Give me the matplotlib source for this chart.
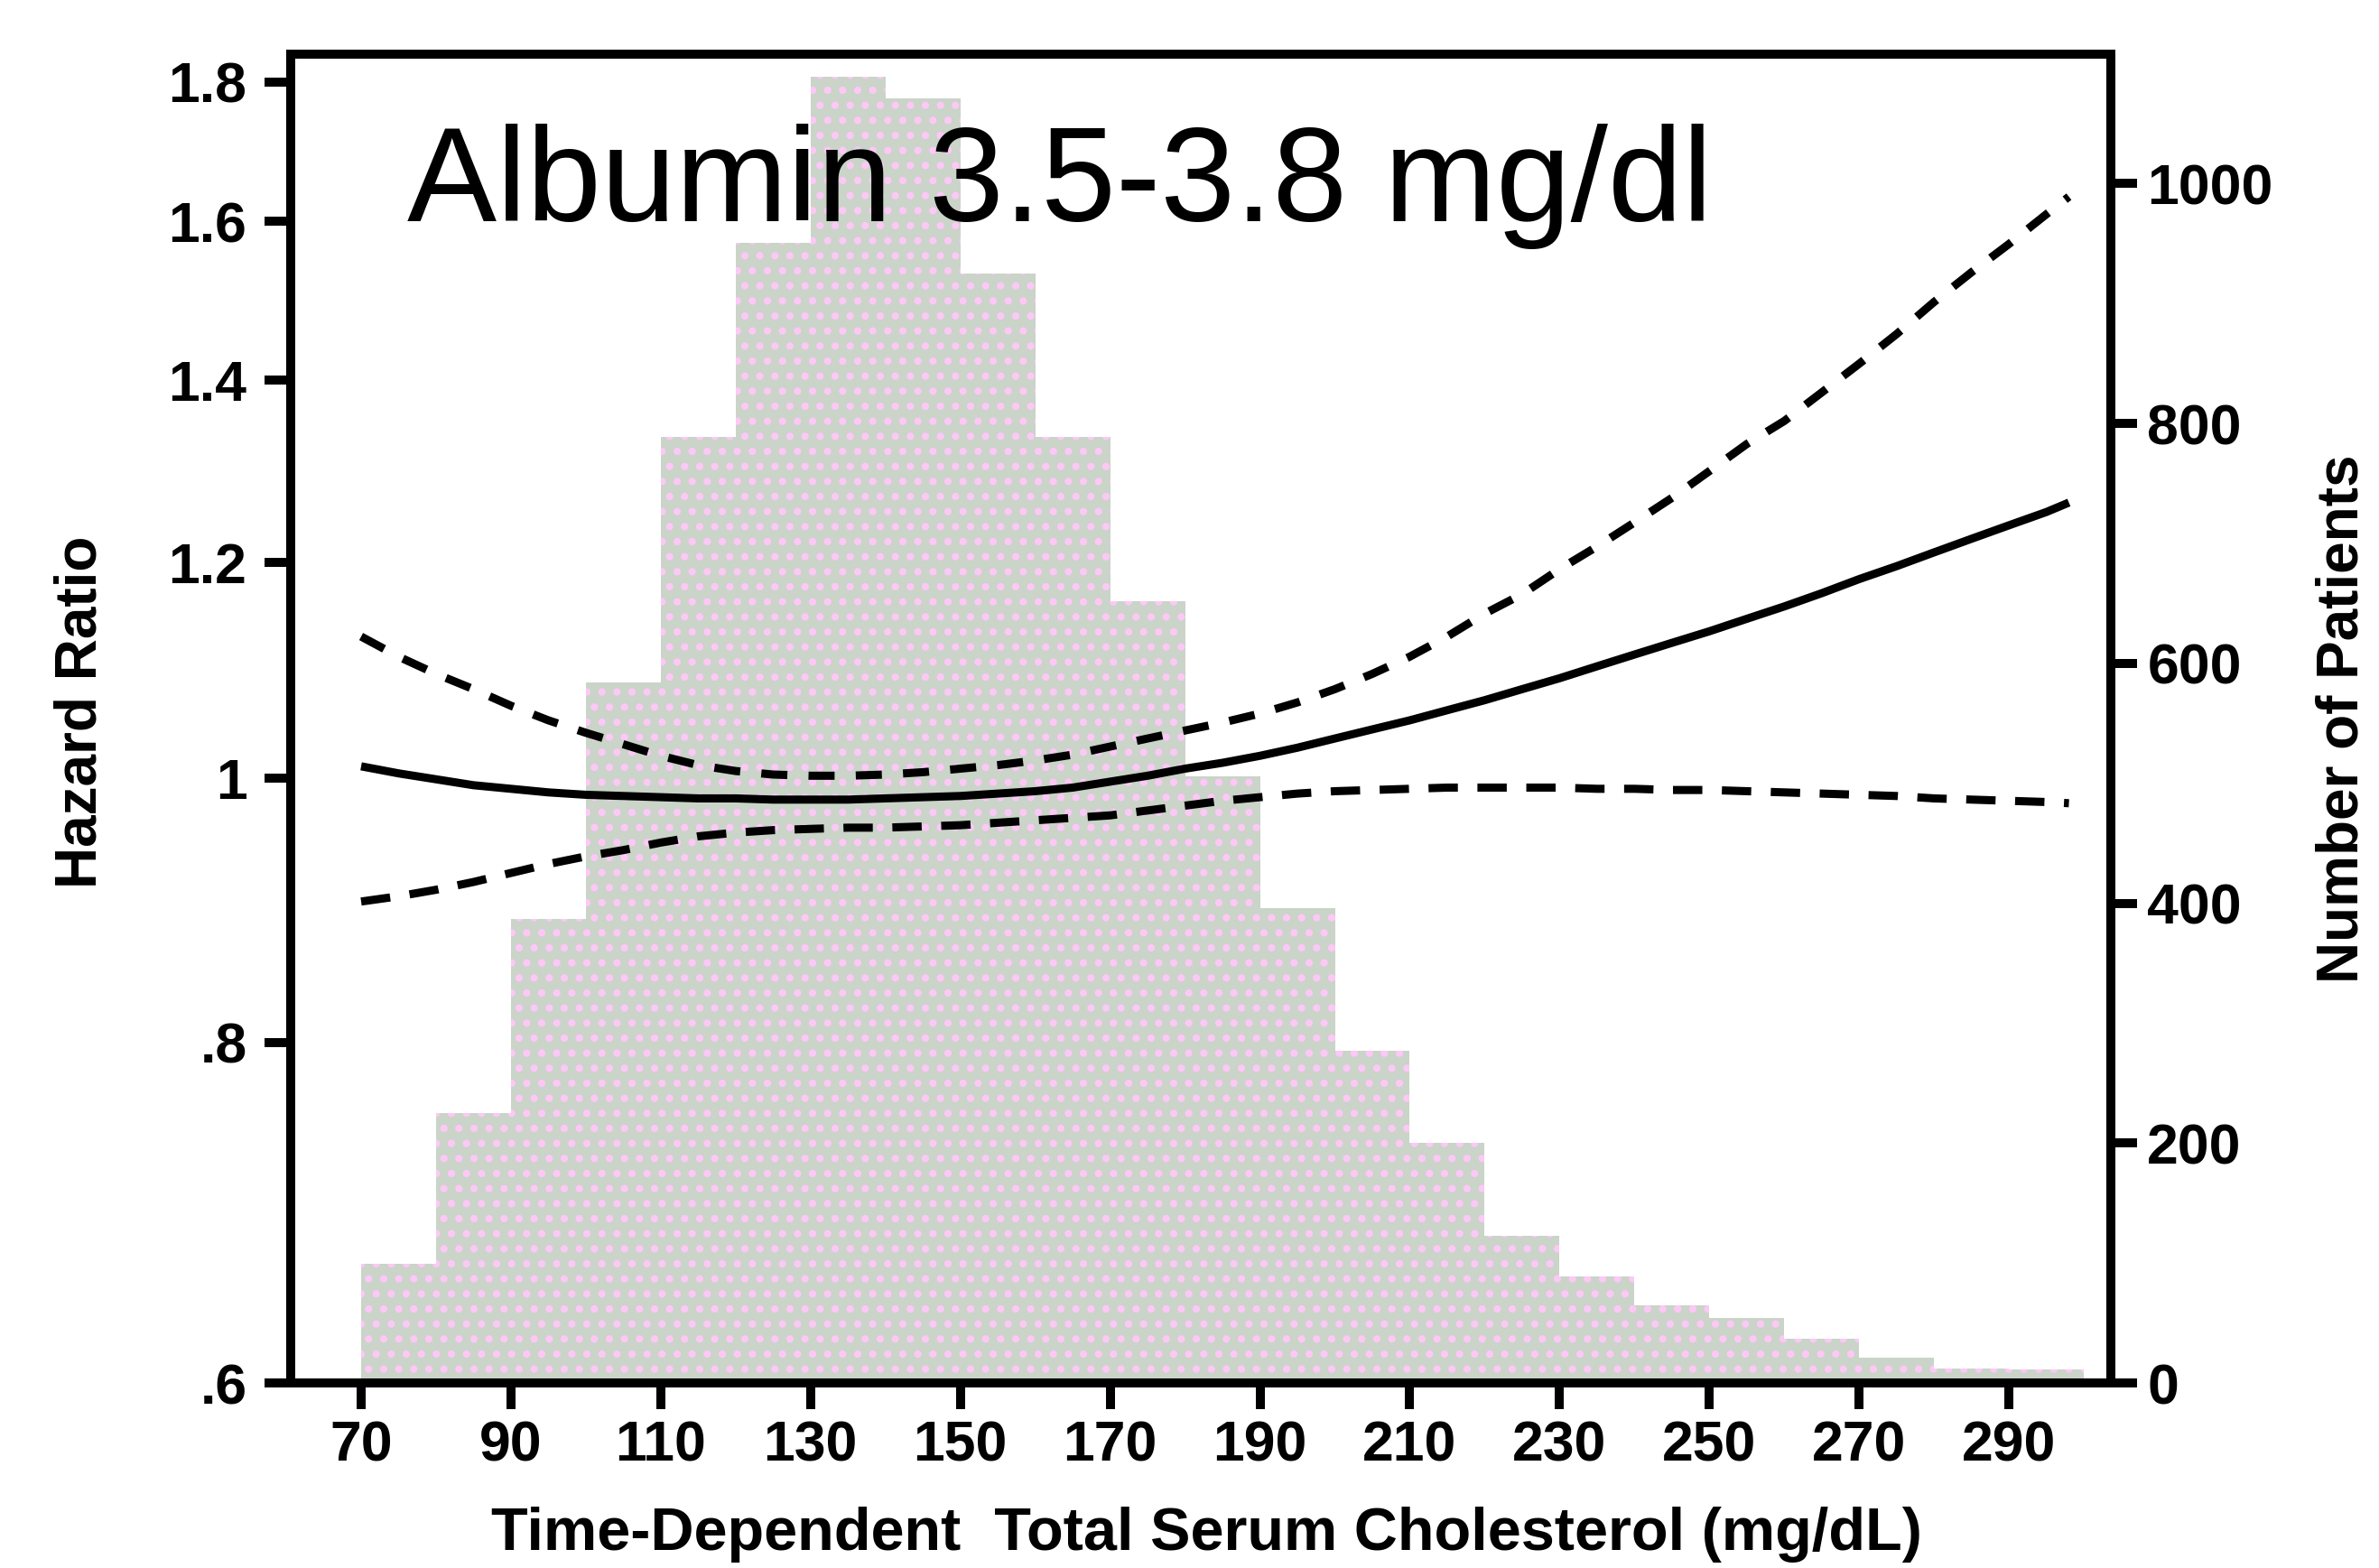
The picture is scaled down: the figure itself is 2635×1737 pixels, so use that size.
import matplotlib
matplotlib.use("Agg")
import matplotlib.pyplot as plt
from matplotlib.ticker import FixedLocator, FixedFormatter, NullLocator

# ---------------- data ----------------
bin_left = [70, 80, 90, 100, 110, 120, 130, 140, 150, 160, 170, 180,
            190, 200, 210, 220, 230, 240, 250, 260, 270, 280, 290]
patients = [99, 225, 387, 584, 789, 951, 1089, 1071, 925, 789, 652, 506,
            396, 277, 200, 123, 89, 65, 54, 37, 21, 12, 11]

curve_x = [70, 75, 80, 85, 90, 95, 100, 105, 110, 115, 120, 125, 130, 135,
           140, 145, 150, 155, 160, 165, 170, 175, 180, 185, 190, 195, 200,
           205, 210, 215, 220, 225, 230, 235, 240, 245, 250, 255, 260, 265,
           270, 275, 280, 285, 290, 295, 298]
hr_est = [1.010, 1.004, 0.999, 0.994, 0.991, 0.988, 0.986, 0.985, 0.984, 0.983,
          0.983, 0.982, 0.982, 0.982, 0.983, 0.984, 0.985, 0.987, 0.989, 0.992,
          0.997, 1.002, 1.008, 1.013, 1.019, 1.026, 1.034, 1.042, 1.050, 1.059,
          1.068, 1.078, 1.088, 1.099, 1.110, 1.121, 1.132, 1.144, 1.156, 1.169,
          1.183, 1.196, 1.210, 1.224, 1.238, 1.252, 1.262]
hr_upper = [1.127, 1.108, 1.092, 1.078, 1.063, 1.050, 1.039, 1.029, 1.019, 1.011,
            1.006, 1.003, 1.002, 1.002, 1.003, 1.005, 1.008, 1.011, 1.015, 1.020,
            1.027, 1.034, 1.041, 1.048, 1.056, 1.066, 1.078, 1.092, 1.108, 1.127,
            1.149, 1.168, 1.193, 1.216, 1.241, 1.267, 1.296, 1.326, 1.352, 1.385,
            1.419, 1.455, 1.495, 1.533, 1.570, 1.610, 1.634]
hr_lower = [0.901, 0.905, 0.910, 0.916, 0.923, 0.930, 0.936, 0.941, 0.947, 0.952,
            0.955, 0.957, 0.958, 0.959, 0.959, 0.960, 0.961, 0.963, 0.965, 0.967,
            0.969, 0.973, 0.977, 0.981, 0.984, 0.987, 0.989, 0.990, 0.991, 0.992,
            0.992, 0.992, 0.992, 0.991, 0.991, 0.990, 0.990, 0.989, 0.988, 0.987,
            0.986, 0.985, 0.983, 0.982, 0.981, 0.980, 0.979]

x_ticks = [70, 90, 110, 130, 150, 170, 190, 210, 230, 250, 270, 290]
hr_ticks = [0.6, 0.8, 1.0, 1.2, 1.4, 1.6, 1.8]
hr_tick_labels = [".6", ".8", "1", "1.2", "1.4", "1.6", "1.8"]
count_ticks = [0, 200, 400, 600, 800, 1000]

title_text = "Albumin 3.5-3.8 mg/dl"
x_label = "Time-Dependent  Total Serum Cholesterol (mg/dL)"
left_label = "Hazard Ratio"
right_label = "Number of Patients"

# ---------------- style ----------------
plt.rcParams['font.family'] = ['Liberation Sans', 'DejaVu Sans']
plt.rcParams['hatch.linewidth'] = 3.5

W, H = 2635, 1737
fig = plt.figure(figsize=(W / 100, H / 100), dpi=100)
ax_l, ax_r, ax_t, ax_b = 322, 2338, 60, 1532
ax = fig.add_axes([ax_l / W, 1 - ax_b / H, (ax_r - ax_l) / W, (ax_b - ax_t) / H])
ax2 = ax.twinx()
ax2.set_zorder(ax.get_zorder() - 1)
ax.patch.set_visible(False)

# histogram (right axis)
ax2.bar(bin_left, patients, width=10, align='edge', color='#cad4c8',
        edgecolor='#fcc8f6', linewidth=0, hatch='.')
ax2.set_ylim(0, 1108)
ax2.yaxis.set_major_locator(FixedLocator(count_ticks))

# hazard ratio curves (left axis, log)
lw = 6.5
ax.plot(curve_x, hr_est, color='black', lw=lw, solid_capstyle='butt')
ax.plot(curve_x, hr_upper, color='black', lw=lw, linestyle=(0, (3.2, 2.6)),
        dash_capstyle='butt')
ax.plot(curve_x, hr_lower, color='black', lw=lw, linestyle=(0, (3.6, 2.4)),
        dash_capstyle='butt')
ax.set_yscale('log')
ax.set_ylim(0.600, 1.843)
ax.set_xlim(60.6, 303.6)
ax.yaxis.set_major_locator(FixedLocator(hr_ticks))
ax.yaxis.set_major_formatter(FixedFormatter(hr_tick_labels))
ax.yaxis.set_minor_locator(NullLocator())
ax.xaxis.set_major_locator(FixedLocator(x_ticks))

ax.text((451 - ax_l) / (ax_r - ax_l), (ax_b - 245) / (ax_b - ax_t), title_text,
        transform=ax.transAxes, fontsize=107, ha='left', va='baseline',
        color='black')

for a in (ax, ax2):
    for s in a.spines.values():
        s.set_linewidth(7.2)
ax.tick_params(axis='both', which='major', direction='out', length=21, width=7.2)
ax.tick_params(axis='y', pad=14)
ax.tick_params(axis='x', pad=8)
ax2.tick_params(axis='y', direction='out', length=21, width=7.2, pad=8)
for lab in ax.get_xticklabels() + ax.get_yticklabels() + ax2.get_yticklabels():
    lab.set_fontsize(45)
    lab.set_fontweight('bold')

ax.set_xlabel(x_label, fontsize=48, fontweight='bold')
ax.xaxis.label.set_va('baseline')
ax.xaxis.set_label_coords(0.503, (ax_b - 1717) / (ax_b - ax_t))

ax.set_ylabel(left_label, fontsize=46, fontweight='bold', rotation=90,
              va='center', ha='center')
ax.yaxis.set_label_coords((90 - ax_l) / (ax_r - ax_l), 0.505)

ax2.set_ylabel(right_label, fontsize=46, fontweight='bold', rotation=90,
               va='center', ha='center')
ax2.yaxis.set_label_coords((2595 - ax_l) / (ax_r - ax_l), 0.50)

fig.savefig("out.png", dpi=100)
